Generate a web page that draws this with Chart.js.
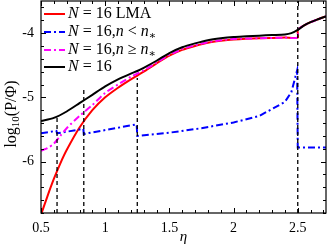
<!DOCTYPE html>
<html>
<head>
<meta charset="utf-8">
<script src="https://cdn.jsdelivr.net/npm/chart.js@4.4.0/dist/chart.umd.min.js"></script>
<style>
  body { margin: 0; background: #fff; }
  #wrap { width: 327px; height: 245px; }
</style>
</head>
<body>
<div id="wrap"><canvas id="c"></canvas></div>
<script>
// values (eta, log10(P/Phi))
const etaLMA = [0.505, 0.55, 0.6, 0.65, 0.7, 0.8, 0.9, 1.0, 1.1, 1.2, 1.25, 1.3, 1.4, 1.5, 1.6, 1.7, 1.8, 1.9, 2.0, 2.2, 2.4, 2.5, 2.5, 2.55, 2.6, 2.65, 2.72];
const valLMA = [-6.8, -6.54, -6.27, -6.03, -5.82, -5.47, -5.2, -5.0, -4.85, -4.72, -4.66, -4.6, -4.47, -4.35, -4.26, -4.2, -4.15, -4.12, -4.1, -4.08, -4.07, -4.07, -3.95, -3.88, -3.83, -3.79, -3.74];

const etaLow = [0.5, 0.62, 0.625, 0.83, 0.833, 1.245, 1.25, 1.5, 1.75, 2.0, 2.2, 2.3, 2.4, 2.45, 2.495, 2.5, 2.72];
const valLow = [-5.56, -5.52, -5.56, -5.49, -5.57, -5.42, -5.6, -5.55, -5.48, -5.39, -5.29, -5.18, -5.07, -4.92, -4.58, -5.78, -5.78];

const etaHigh = [0.5, 0.55, 0.6, 0.65, 0.7, 0.8, 0.9, 1.0, 1.1, 1.2, 1.25, 1.3, 1.4, 1.5, 1.6, 1.7, 1.8, 1.9, 2.0, 2.2, 2.4, 2.5, 2.5, 2.55, 2.6, 2.65, 2.72];
const valHigh = [-5.83, -5.79, -5.72, -5.6, -5.48, -5.29, -5.12, -4.93, -4.8, -4.68, -4.63, -4.58, -4.46, -4.34, -4.25, -4.19, -4.14, -4.11, -4.09, -4.08, -4.07, -4.07, -3.95, -3.88, -3.83, -3.79, -3.74];

const etaAll = [0.5, 0.6, 0.7, 0.8, 0.9, 1.0, 1.1, 1.2, 1.25, 1.3, 1.4, 1.5, 1.6, 1.7, 1.8, 1.9, 2.0, 2.1, 2.2, 2.3, 2.4, 2.45, 2.5, 2.55, 2.6, 2.65, 2.72];
const valAll = [-5.37, -5.32, -5.22, -5.09, -4.96, -4.83, -4.72, -4.63, -4.59, -4.54, -4.43, -4.31, -4.22, -4.16, -4.11, -4.08, -4.06, -4.05, -4.04, -4.03, -4.02, -4.0, -3.95, -3.88, -3.83, -3.79, -3.74];

const markEta = [0.625, 0.8333, 1.25, 2.5];
const markTop = [-5.31, -4.84, -4.7, -3.5];

const xTicks = [0.5, 1, 1.5, 2, 2.5];
const yTicks = [-6, -5, -4];

const zip = (xs, ys) => xs.map((x, i) => ({ x: x, y: ys[i] }));

const datasets = [
  { label: 'N = 16 LMA', data: zip(etaLMA, valLMA), borderColor: '#ff0000', borderWidth: 2, tension: 0.25, order: 4 },
  { label: 'N = 16,n < n*', data: zip(etaLow, valLow), borderColor: '#0000ff', borderWidth: 2, borderDash: [7, 3, 2, 3], tension: 0, order: 3 },
  { label: 'N = 16,n ≥ n*', data: zip(etaHigh, valHigh), borderColor: '#ff00ff', borderWidth: 2, borderDash: [7, 3, 2, 3], tension: 0.25, order: 2 },
  { label: 'N = 16', data: zip(etaAll, valAll), borderColor: '#000000', borderWidth: 2, tension: 0.25, order: 1 }
];
markEta.forEach((e, i) => {
  datasets.push({ label: '', data: [{ x: e, y: -6.8 }, { x: e, y: markTop[i] }], borderColor: '#000', borderWidth: 1.3, borderDash: [4, 3], order: 0 });
});

// legend entries: text pieces [text, style]
const legendRows = [
  { color: '#ff0000', dash: [], parts: [['N', 'i'], [' = 16 LMA', 'r']] },
  { color: '#0000ff', dash: [7, 3, 2, 3], parts: [['N', 'i'], [' = 16,', 'r'], ['n', 'i'], [' < ', 'r'], ['n', 'i'], ['∗', 's']] },
  { color: '#ff00ff', dash: [7, 3, 2, 3], parts: [['N', 'i'], [' = 16,', 'r'], ['n', 'i'], [' ≥ ', 'r'], ['n', 'i'], ['∗', 's']] },
  { color: '#000000', dash: [], parts: [['N', 'i'], [' = 16', 'r']] }
];

const serif = '"Liberation Serif", "DejaVu Serif", serif';

const decor = {
  id: 'decor',
  afterDraw(chart) {
    const ctx = chart.ctx, a = chart.chartArea;
    const xs = chart.scales.x, ys = chart.scales.y;
    ctx.save();
    ctx.strokeStyle = '#000';
    ctx.lineWidth = 1.2;
    ctx.strokeRect(a.left, a.top, a.right - a.left, a.bottom - a.top);
    ctx.lineWidth = 1;
    ctx.beginPath();
    for (let k = 5; k <= 27; k++) {
      const v = k / 10, px = Math.round(xs.getPixelForValue(v)) + 0.5;
      const len = (k % 5 === 0) ? 5 : 3;
      ctx.moveTo(px, a.bottom); ctx.lineTo(px, a.bottom - len);
      ctx.moveTo(px, a.top); ctx.lineTo(px, a.top + len);
    }
    for (let k = -34; k <= -18; k++) {
      const v = k / 5, py = Math.round(ys.getPixelForValue(v)) + 0.5;
      const len = (k % 5 === 0) ? 5 : 3;
      ctx.moveTo(a.left, py); ctx.lineTo(a.left + len, py);
      ctx.moveTo(a.right, py); ctx.lineTo(a.right - len, py);
    }
    ctx.stroke();

    // legend
    ctx.textBaseline = 'middle';
    const rowY = [14, 32, 50, 67];
    legendRows.forEach((r, i) => {
      const y = rowY[i];
      ctx.strokeStyle = r.color; ctx.lineWidth = 2; ctx.setLineDash(r.dash);
      ctx.beginPath(); ctx.moveTo(44, y); ctx.lineTo(65, y); ctx.stroke();
      ctx.setLineDash([]);
      let x = 68;
      ctx.fillStyle = '#000';
      r.parts.forEach(p => {
        if (p[1] === 's') {
          ctx.font = '11px ' + serif;
          ctx.fillText(p[0], x, y + 4);
        } else {
          ctx.font = (p[1] === 'i' ? 'italic ' : '') + '16px ' + serif;
          ctx.fillText(p[0], x, y);
        }
        x += ctx.measureText(p[0]).width;
      });
    });

    // axis titles
    ctx.fillStyle = '#000';
    ctx.font = 'italic 15px ' + serif;
    ctx.textAlign = 'center';
    ctx.textBaseline = 'middle';
    ctx.fillText('η', (a.left + a.right) / 2, 237);

    ctx.translate(12, 114);
    ctx.rotate(-Math.PI / 2);
    ctx.textAlign = 'left';
    const pieces = [['log', 16, 0], ['10', 11, 4], ['(P/Φ)', 16, 0]];
    let w = 0;
    pieces.forEach(p => { ctx.font = p[1] + 'px ' + serif; w += ctx.measureText(p[0]).width; });
    let x = -w / 2;
    pieces.forEach(p => {
      ctx.font = p[1] + 'px ' + serif;
      ctx.fillText(p[0], x, p[2]);
      x += ctx.measureText(p[0]).width;
    });
    ctx.restore();
  }
};

new Chart(document.getElementById('c'), {
  type: 'line',
  data: { datasets: datasets },
  options: {
    responsive: true,
    maintainAspectRatio: false,
    devicePixelRatio: 1,
    animation: false,
    layout: { padding: { top: 1, right: 1, left: 0, bottom: 0 } },
    elements: { point: { radius: 0 } },
    plugins: { legend: { display: false }, tooltip: { enabled: false } },
    scales: {
      x: {
        type: 'linear', min: 0.5, max: 2.72,
        grid: { display: false, drawTicks: false },
        border: { display: false },
        afterBuildTicks: s => { s.ticks = xTicks.map(v => ({ value: v })); },
        afterFit: s => { s.height = 32; s.paddingLeft = 0; s.paddingRight = 0; },
        ticks: { padding: 7, color: '#000', font: { family: serif, size: 14 }, maxRotation: 0, autoSkip: false, callback: v => String(v) }
      },
      y: {
        type: 'linear', min: -6.8, max: -3.5,
        grid: { display: false, drawTicks: false },
        border: { display: false },
        afterBuildTicks: s => { s.ticks = yTicks.map(v => ({ value: v })); },
        afterFit: s => { s.width = 41; s.paddingTop = 0; s.paddingBottom = 0; },
        ticks: { padding: 7, color: '#000', font: { family: serif, size: 14 }, autoSkip: false, callback: v => String(v) }
      }
    }
  },
  plugins: [decor]
});
</script>
</body>
</html>
